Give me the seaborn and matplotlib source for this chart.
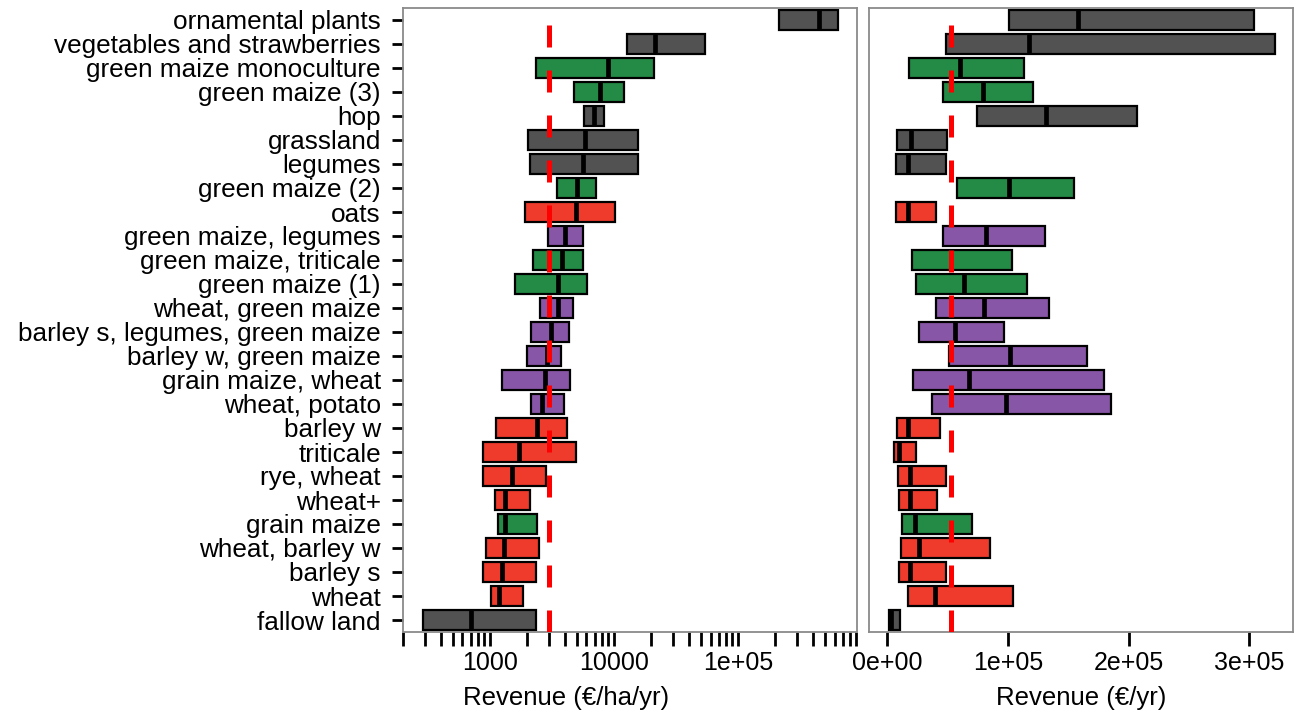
import numpy as np
import pandas as pd
import matplotlib
matplotlib.use('Agg')
import matplotlib.pyplot as plt
import seaborn as sns

# Crops, top to bottom
crops = [
    'ornamental plants', 'vegetables and strawberries', 'green maize monoculture',
    'green maize (3)', 'hop', 'grassland', 'legumes', 'green maize (2)', 'oats',
    'green maize, legumes', 'green maize, triticale', 'green maize (1)',
    'wheat, green maize', 'barley s, legumes, green maize', 'barley w, green maize',
    'grain maize, wheat', 'wheat, potato', 'barley w', 'triticale', 'rye, wheat',
    'wheat+', 'grain maize', 'wheat, barley w', 'barley s', 'wheat', 'fallow land'
]
groups = [
    'other', 'other', 'maize', 'maize', 'other', 'other', 'other', 'maize', 'cereal',
    'rotation', 'maize', 'maize', 'rotation', 'rotation', 'rotation', 'rotation',
    'rotation', 'cereal', 'cereal', 'cereal', 'cereal', 'maize', 'cereal', 'cereal',
    'cereal', 'other'
]
group_colors = {'other': '#525252', 'maize': '#238B45',
                'cereal': '#EF3B2C', 'rotation': '#8856A7'}

# Revenue per hectare (€/ha/yr): lower quartile, median, upper quartile
ha_lo = [214000, 12700, 2350, 4750, 5730, 2020, 2100, 3470, 1910, 2940, 2220, 1590,
         2530, 2140, 1990, 1250, 2140, 1120, 879, 879, 1100, 1160, 929, 879, 1020, 288]
ha_med = [450000, 21400, 8950, 7710, 6900, 5840, 5620, 5030, 4940, 4030, 3810, 3530,
          3530, 3100, 2880, 2780, 2630, 2390, 1710, 1500, 1320, 1320, 1300, 1250, 1180, 703]
ha_hi = [640000, 54200, 21000, 12050, 8300, 15600, 15600, 7160, 10200, 5620, 5620, 6050,
         4670, 4340, 3740, 4420, 3950, 4180, 4940, 2830, 2100, 2390, 2480, 2350, 1850, 2350]

# Revenue per farm (€/yr)
yr_lo = [100800, 48800, 18200, 46300, 74400, 8300, 7400, 57900, 7400, 46300, 20700, 24000,
         40500, 26400, 51200, 21500, 37200, 8300, 5800, 9100, 9900, 12400, 11600, 9900,
         17400, 1500]
yr_med = [157900, 117400, 60300, 79300, 131400, 19800, 17400, 100800, 17400, 81800, 52900,
          63600, 80200, 56200, 101700, 67800, 98300, 17400, 9900, 19000, 19000, 23100,
          26400, 19000, 39700, 3500]
yr_hi = [304100, 321500, 113200, 120700, 206600, 49600, 48800, 154500, 40500, 130600,
         103300, 115700, 133900, 96700, 165300, 179300, 185100, 43800, 24000, 48800, 41300,
         70200, 85100, 48800, 104100, 10500]

ha_ref = 3000
yr_ref = 53000

ha_ticks = [1000, 10000, 100000]
ha_ticklabels = ['1000', '10000', '1e+05']
yr_ticks = [0, 100000, 200000, 300000]
yr_ticklabels = ['0e+00', '1e+05', '2e+05', '3e+05']


def long_table(lo, med, hi):
    # five values per crop whose quartiles are exactly lo / med / hi
    rows = []
    for c, a, m, b in zip(crops, lo, med, hi):
        for v in (a, a, m, b, b):
            rows.append({'crop': c, 'value': v})
    return pd.DataFrame(rows)


sns.set_theme(style='white')
plt.rcParams['font.family'] = ['Liberation Sans', 'DejaVu Sans']
plt.rcParams.update({'text.color': 'black', 'axes.labelcolor': 'black',
                     'xtick.labelcolor': 'black', 'ytick.labelcolor': 'black'})

palette = {c: group_colors[g] for c, g in zip(crops, groups)}

fig = plt.figure(figsize=(13.01, 7.15), dpi=100)
ax1 = fig.add_axes([403 / 1301, 1 - 632 / 715, 454 / 1301, 624 / 715])
ax2 = fig.add_axes([869 / 1301, 1 - 632 / 715, 424 / 1301, 624 / 715])

box_kw = dict(
    x='value', y='crop', hue='crop', order=crops, hue_order=crops,
    palette=palette, orient='h', width=0.82, whis=0, showcaps=False,
    showfliers=False, saturation=1, linecolor='black', linewidth=1.6,
    medianprops={'color': 'black', 'linewidth': 3.4}, legend=False
)

sns.boxplot(data=long_table(ha_lo, ha_med, ha_hi), log_scale=True, ax=ax1, **box_kw)
sns.boxplot(data=long_table(yr_lo, yr_med, yr_hi), ax=ax2, **box_kw)

dash = (0, (4.4, 4.6))
ax1.axvline(ha_ref, color='red', linewidth=3.6, linestyle=dash, zorder=5)
ax2.axvline(yr_ref, color='red', linewidth=3.6, linestyle=dash, zorder=5)

ax1.set_xlim(199, 9.1e5)
ax2.set_xlim(-14800, 336000)
ax1.set_ylim(25.5, -0.5)
ax2.set_ylim(25.5, -0.5)

ax1.set_xticks(ha_ticks, labels=ha_ticklabels)
ax1.xaxis.set_minor_formatter(matplotlib.ticker.NullFormatter())
ax2.set_xticks(yr_ticks, labels=yr_ticklabels)

for ax in (ax1, ax2):
    for s in ax.spines.values():
        s.set_color('#8a8a8a')
        s.set_linewidth(1.3)
    ax.tick_params(axis='x', which='both', bottom=True, direction='out',
                   length=10, width=2, color='black', labelsize=18, pad=4)
    ax.set_ylabel('')

ax1.tick_params(axis='y', left=True, direction='out', length=8, width=2,
                color='black', labelsize=18.8, pad=8)
ax2.tick_params(axis='y', left=False, labelleft=False)

ax1.set_xlabel('Revenue (€/ha/yr)', fontsize=18.5)
ax2.set_xlabel('Revenue (€/yr)', fontsize=18.5)
ax1.xaxis.set_label_coords((566 - 403) / 454, (632 - 686) / 624)
ax2.xaxis.set_label_coords(0.5, (632 - 686) / 624)

fig.savefig('out.png', dpi=100)
